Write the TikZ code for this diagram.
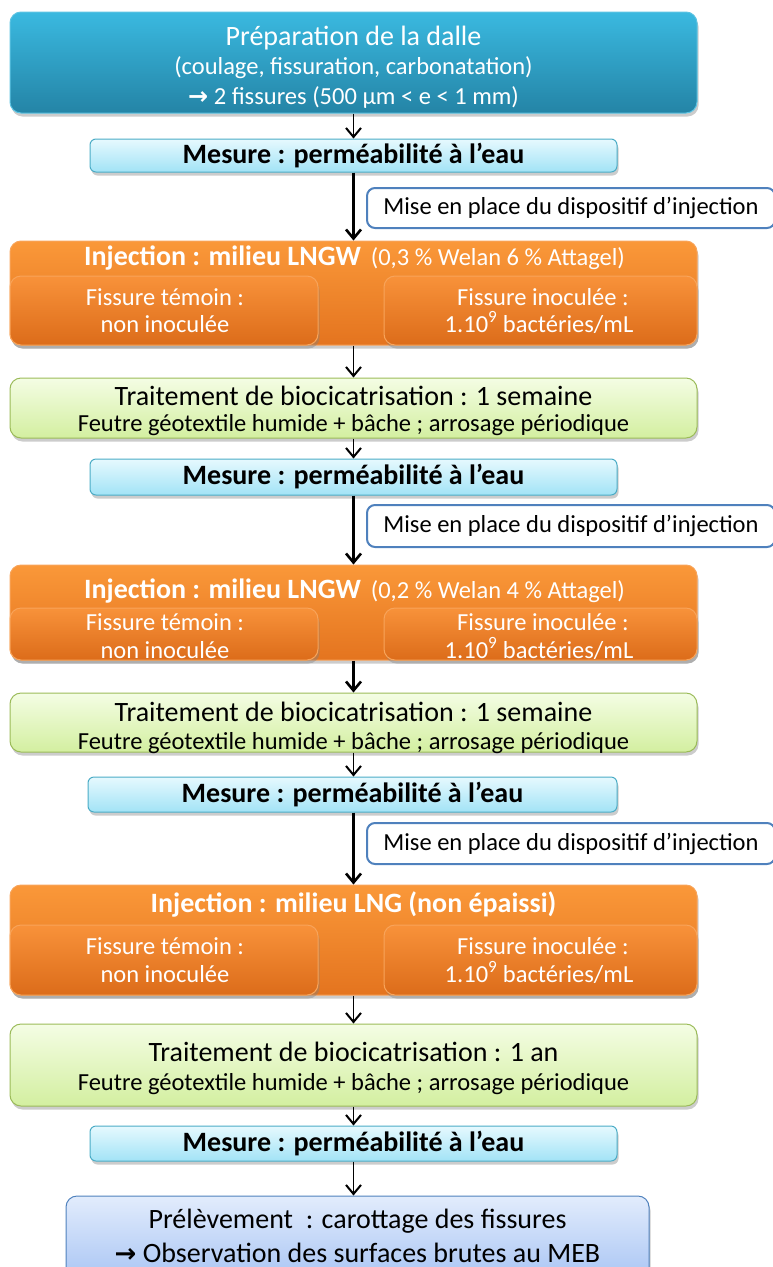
\documentclass[tikz,border=0pt]{standalone}
\usepackage{fontspec}
\setmainfont{Carlito}
\newfontfamily\symf{DejaVu Sans}
\usetikzlibrary{arrows.meta,shadows}
\definecolor{tealT}{HTML}{3AB9E0}
\definecolor{tealB}{HTML}{2484A6}
\definecolor{tealD}{HTML}{5CC3E2}
\definecolor{cyT}{HTML}{E6F9FE}
\definecolor{cyB}{HTML}{A2E3F6}
\definecolor{cyD}{HTML}{4BACC6}
\definecolor{blD}{HTML}{4F81BD}
\definecolor{orT}{HTML}{FA9839}
\definecolor{orB}{HTML}{E4741F}
\definecolor{orD}{HTML}{F8A45A}
\definecolor{suT}{HTML}{F8923A}
\definecolor{suB}{HTML}{DC6C1A}
\definecolor{grT}{HTML}{F4FDE4}
\definecolor{grB}{HTML}{D3EFA0}
\definecolor{grD}{HTML}{9BBB59}
\definecolor{pbT}{HTML}{E2ECFC}
\definecolor{pbB}{HTML}{A9C5F4}
\begin{document}
\begin{tikzpicture}[x=1pt,y=-1pt,
  shad/.style={drop shadow={opacity=0.4,shadow xshift=1.5pt,shadow yshift=-3.5pt}},
  boxbase/.style={rounded corners=11pt,line width=1pt,inner sep=0pt,shad},
  prepbox/.style={boxbase,top color=tealT,bottom color=tealB,draw=tealD},
  mesbox/.style={boxbase,rounded corners=6pt,top color=cyT,bottom color=cyB,draw=cyD,
     font=\fontsize{28}{32}\selectfont\bfseries},
  sidebox/.style={rounded corners=8pt,line width=2pt,fill=white,draw=blD,inner sep=0pt,
     font=\fontsize{24.5}{28}\selectfont},
  injbox/.style={boxbase,top color=orT,bottom color=orB,draw=orD},
  subbox/.style={boxbase,top color=suT,bottom color=suB,draw=orD},
  trtbox/.style={boxbase,top color=grT,bottom color=grB,draw=grD},
  prelbox/.style={boxbase,top color=pbT,bottom color=pbB,draw=blD},
  tbig/.style={anchor=base,inner sep=0pt,font=\fontsize{28}{32}\selectfont},
  tsmall/.style={anchor=base,inner sep=0pt,font=\fontsize{24.5}{28}\selectfont},
  wt/.style={text=white},
  arr/.style={line width=1.8pt,-{Straight Barb[length=9pt,width=15pt,line width=2pt]}},
  arrL/.style={line width=2.6pt,-{Straight Barb[length=9pt,width=15pt,line width=2.6pt]}}
]
\useasboundingbox (0,0) rectangle (773,1267);

% --- preparation
\node[prepbox,minimum width=687pt,minimum height=101pt] (prep) at (353.5,62.5) {};
\node[tbig,wt] (prepA) at (353.5,45) {Préparation de la dalle};
\node[tsmall,wt] (prepB) at (353.5,74) {(coulage, fissuration, carbonatation)};
\node[tsmall,wt] (prepC) at (353.5,104) {{\symf\bfseries\fontsize{24}{28}\selectfont →} 2 fissures (500 µm < e < 1 mm)};

\node[mesbox,minimum width=527pt,minimum height=33pt] (mes1) at (353.5,155.5) {Mesure : perméabilité à l’eau};
\node[sidebox,minimum width=408pt,minimum height=40pt] (side1) at (571,208) {Mise en place du dispositif d’injection};

% --- injection 1
\node[injbox,minimum width=687pt,minimum height=104pt] (inj1) at (353.5,293) {};
\node[subbox,minimum width=308pt,minimum height=69pt] (inj1L) at (164,310.5) {};
\node[subbox,minimum width=313pt,minimum height=69pt] (inj1R) at (540.5,310.5) {};
\node[tbig,wt] (inj1T) at (354.5,265) {\textbf{Injection : milieu LNGW}\hspace{10pt}{\fontsize{24.5}{28}\selectfont(0,3 \% Welan 6 \% Attagel)}};
\node[tsmall,wt] (inj1La) at (165,305) {Fissure témoin :};
\node[tsmall,wt] (inj1Lb) at (165,332) {non inoculée};
\node[tsmall,wt] (inj1Ra) at (543,305) {Fissure inoculée :};
\node[tsmall,wt] (inj1Rb) at (539,332) {1.10\textsuperscript{9} bactéries/mL};

% --- traitement 1
\node[trtbox,minimum width=687pt,minimum height=60pt] (trt1) at (353.5,408) {};
\node[tbig] (trt1a) at (353.5,405) {Traitement de biocicatrisation : 1 semaine};
\node[tsmall] (trt1b) at (353.5,431) {Feutre géotextile humide + bâche ; arrosage périodique};

\node[mesbox,minimum width=527pt,minimum height=36pt] (mes2) at (353.5,477) {Mesure : perméabilité à l’eau};
\node[sidebox,minimum width=408pt,minimum height=42pt] (side2) at (571,526) {Mise en place du dispositif d’injection};

% --- injection 2
\node[injbox,minimum width=687pt,minimum height=95pt] (inj2) at (353.5,612.5) {};
\node[subbox,minimum width=308pt,minimum height=52pt] (inj2L) at (164,634) {};
\node[subbox,minimum width=313pt,minimum height=52pt] (inj2R) at (540.5,634) {};
\node[tbig,wt] (inj2T) at (354.5,598) {\textbf{Injection : milieu LNGW}\hspace{10pt}{\fontsize{24.5}{28}\selectfont(0,2 \% Welan 4 \% Attagel)}};
\node[tsmall,wt] (inj2La) at (165,630) {Fissure témoin :};
\node[tsmall,wt] (inj2Lb) at (165,658) {non inoculée};
\node[tsmall,wt] (inj2Ra) at (543,630) {Fissure inoculée :};
\node[tsmall,wt] (inj2Rb) at (539,658) {1.10\textsuperscript{9} bactéries/mL};

% --- traitement 2
\node[trtbox,minimum width=687pt,minimum height=59pt] (trt2) at (353.5,722.5) {};
\node[tbig] (trt2a) at (353.5,721) {Traitement de biocicatrisation : 1 semaine};
\node[tsmall] (trt2b) at (353.5,749) {Feutre géotextile humide + bâche ; arrosage périodique};

\node[mesbox,minimum width=529pt,minimum height=35pt] (mes3) at (352.5,794.5) {Mesure : perméabilité à l’eau};
\node[sidebox,minimum width=408pt,minimum height=41pt] (side3) at (571,843.5) {Mise en place du dispositif d’injection};

% --- injection 3
\node[injbox,minimum width=687pt,minimum height=110pt] (inj3) at (353.5,940) {};
\node[subbox,minimum width=308pt,minimum height=70pt] (inj3L) at (164,960) {};
\node[subbox,minimum width=313pt,minimum height=70pt] (inj3R) at (540.5,960) {};
\node[tbig,wt,font=\fontsize{28}{32}\selectfont\bfseries] (inj3T) at (353.5,912) {Injection : milieu LNG (non épaissi)};
\node[tsmall,wt] (inj3La) at (165,954) {Fissure témoin :};
\node[tsmall,wt] (inj3Lb) at (165,982) {non inoculée};
\node[tsmall,wt] (inj3Ra) at (543,954) {Fissure inoculée :};
\node[tsmall,wt] (inj3Rb) at (539,982) {1.10\textsuperscript{9} bactéries/mL};

% --- traitement 3
\node[trtbox,minimum width=687pt,minimum height=82pt] (trt3) at (353.5,1065) {};
\node[tbig] (trt3a) at (353.5,1061) {Traitement de biocicatrisation : 1 an};
\node[tsmall] (trt3b) at (353.5,1090) {Feutre géotextile humide + bâche ; arrosage périodique};

\node[mesbox,minimum width=527pt,minimum height=35pt] (mes4) at (353.5,1143.5) {Mesure : perméabilité à l’eau};

% --- prelevement
\node[prelbox,minimum width=583pt,minimum height=84pt] (prel) at (357.5,1238) {};
\node[tbig] (prelA) at (357.5,1228) {Prélèvement\ \ : carottage des fissures};
\node[tbig] (prelB) at (357.5,1262) {{\symf\bfseries\fontsize{26}{28}\selectfont →} Observation des surfaces brutes au MEB};

% --- connectors
\draw[arr] (prep.south) -- (mes1.north);
\draw[arrL] (mes1.south) -- (inj1.north);
\draw[arr] (inj1.south) -- (trt1.north);
\draw[arr] (trt1.south) -- (mes2.north);
\draw[arrL] (mes2.south) -- (inj2.north);
\draw[arrL] (inj2.south) -- (trt2.north);
\draw[arr] (trt2.south) -- (mes3.north -| trt2.south);
\draw[arrL] (mes3.south -| inj3.north) -- (inj3.north);
\draw[arr] (inj3.south) -- (trt3.north);
\draw[arr] (trt3.south) -- (mes4.north);
\draw[arr] (mes4.south) -- (prel.north -| mes4.south);
\end{tikzpicture}
\end{document}
